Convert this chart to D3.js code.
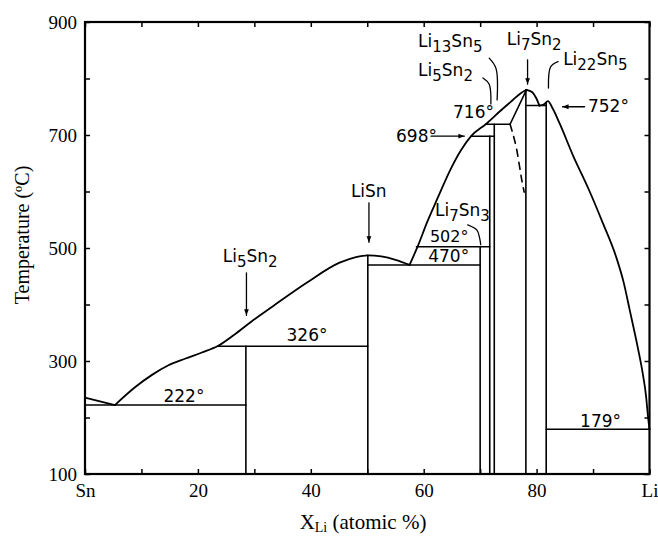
<!DOCTYPE html>
<html>
<head>
<meta charset="utf-8">
<script src="https://cdn.jsdelivr.net/npm/d3@7"></script>
<style>
  body { margin: 0; background: #fff; }
</style>
</head>
<body>
<div id="chart"></div>
<script>
// --- data: composition X_Li (at.%) and temperature (°C) ---
const liqSnEnd = [[0, 235], [5.3, 222]]
const liqLiSn = [[5.3, 222], [8.8, 253], [11.8, 275], [14.7, 292], [17.7, 304], [20.7, 315], [23.6, 327],
    [26.5, 347], [29.5, 370], [33.3, 397], [39.2, 438], [45.1, 474], [48, 484], [50.1, 487],
    [52.5, 485], [55, 479], [57.5, 470]]
const liqHigh = [[57.5, 470], [58.9, 502], [60.7, 548], [62.5, 589], [64.8, 640], [66.6, 673], [68.4, 698],
    [71.1, 720], [73.5, 742], [75.8, 762], [77.2, 774], [78.2, 780]]
const liqDome = [[78.2, 780], [79.2, 776], [79.9, 766], [80.5, 752]]
const liqLiSide = [[80.5, 752], [81.4, 755], [82, 760], [82.9, 746], [84.1, 720], [86.4, 665], [89.4, 600],
    [91.7, 545], [94.1, 484], [95.4, 440], [96.5, 390], [97.9, 325], [98.8, 278], [99.4, 237],
    [99.7, 205], [100, 179]]
const li7sn2Side = [[78.2, 780], [75.3, 719]]
const li7sn2Dashed = [[75.3, 719], [75.8, 702], [76.4, 678], [77, 643], [77.4, 619], [77.8, 599]]

// isotherms: [T, from X, to X]
const isotherms = [[222, 0, 28.5], [326, 23.6, 50.1], [470, 50.1, 70], [502, 58.7, 71.7],
    [698, 68.4, 72.5], [719, 71.0, 75.3], [752, 78.1, 81.7], [179, 81.7, 100]]
// compound lines: [X, top T]
const compounds = [[28.5, 326], [50.1, 487], [70, 502], [71.7, 698], [72.5, 719], [78.1, 780], [81.7, 756]]

const xTickVals = [0, 20, 40, 60, 80, 100]
const xTickText = ['Sn', '20', '40', '60', '80', 'Li']
const yTickVals = [100, 300, 500, 700, 900]

// pointers next to the labels
const arrows = [
    [[28.6, 456], [28.6, 381]],
    [[50.3, 580], [50.3, 510]],
    [[61.3, 698], [67.2, 698]],
    [[88.5, 750], [84.6, 750]],
    [[78.4, 833], [78.4, 790]]
]
const hooks = [
    [[70.5, 801], [71.6, 790], [71.9, 755]],
    [[71.6, 836], [72.8, 818], [73, 762]],
    [[83.8, 830], [82.5, 821], [82.1, 783]],
    [[67.8, 541], [69.4, 532], [69.9, 518], [70.1, 506]]
]

// labels: [X, T, parts] ; part [text, isSub]
const labels = [
    [24.4, 475, [['Li'], ['5', 1], ['Sn'], ['2', 1]]],
    [47.1, 590, [['LiSn']]],
    [62.0, 556, [['Li'], ['7', 1], ['Sn'], ['3', 1]]],
    [61.1, 511, [['502°']]],
    [60.8, 476, [['470°']]],
    [55.1, 688, [['698°']]],
    [65.2, 730, [['716°']]],
    [59.0, 804, [['Li'], ['5', 1], ['Sn'], ['2', 1]]],
    [59.0, 856, [['Li'], ['13', 1], ['Sn'], ['5', 1]]],
    [74.7, 859, [['Li'], ['7', 1], ['Sn'], ['2', 1]]],
    [84.7, 824, [['Li'], ['22', 1], ['Sn'], ['5', 1]]],
    [89.1, 741, [['752°']]],
    [35.7, 335, [['326°']]],
    [13.9, 227, [['222°']]],
    [87.7, 183, [['179°']]]
]

const W = 658, H = 536
const svg = d3.select('#chart').append('svg').attr('width', W).attr('height', H)

const x = d3.scaleLinear().domain([0, 100]).range([85, 649.5])
const y = d3.scaleLinear().domain([100, 900]).range([474, 22])

const serif = '"Liberation Serif", "Times New Roman", serif'
const hand = '"DejaVu Sans", sans-serif'

svg.append('defs').append('marker')
    .attr('id', 'head').attr('viewBox', '0 0 10 10')
    .attr('refX', 10).attr('refY', 5)
    .attr('markerWidth', 6).attr('markerHeight', 6)
    .attr('markerUnits', 'userSpaceOnUse')
    .attr('orient', 'auto')
    .append('path').attr('d', 'M0,1 L10,5 L0,9 Z').attr('fill', '#000')

// axes (ticks point inward)
const styleAxis = g => {
    g.select('.domain').remove()
    g.selectAll('line').attr('stroke', '#000').attr('stroke-width', 1.5)
    g.selectAll('text').attr('font-family', serif).attr('font-size', '19px').attr('fill', '#000')
}
svg.append('g').attr('transform', `translate(0,${y(100)})`)
    .call(d3.axisBottom(x).tickValues(d3.range(0, 101, 10)).tickSize(-5).tickPadding(10)
        .tickFormat(d => { const i = xTickVals.indexOf(d); return i < 0 ? '' : xTickText[i] }))
    .call(styleAxis)
svg.append('g').attr('transform', `translate(0,${y(900)})`)
    .call(d3.axisTop(x).tickValues(d3.range(0, 101, 10)).tickSize(-5).tickFormat(''))
    .call(styleAxis)
svg.append('g').attr('transform', `translate(${x(0)},0)`)
    .call(d3.axisLeft(y).tickValues(d3.range(100, 901, 100)).tickSize(-5).tickPadding(8)
        .tickFormat(d => yTickVals.includes(d) ? d : ''))
    .call(styleAxis)
svg.append('g').attr('transform', `translate(${x(100)},0)`)
    .call(d3.axisRight(y).tickValues(d3.range(100, 901, 100)).tickSize(-5).tickFormat(''))
    .call(styleAxis)

svg.append('rect')
    .attr('x', x(0)).attr('y', y(900))
    .attr('width', x(100) - x(0)).attr('height', y(100) - y(900))
    .attr('fill', 'none').attr('stroke', '#000').attr('stroke-width', 2.2)

const plot = svg.append('g').attr('fill', 'none').attr('stroke', '#000').attr('stroke-linecap', 'round')

const smooth = d3.line().x(d => x(d[0])).y(d => y(d[1])).curve(d3.curveMonotoneX)
const bent = d3.line().x(d => x(d[0])).y(d => y(d[1])).curve(d3.curveCatmullRom.alpha(0.5))
const straight = d3.line().x(d => x(d[0])).y(d => y(d[1]))

plot.append('path').attr('d', straight(liqSnEnd)).attr('stroke-width', 1.8)
;[liqLiSn, liqHigh, liqDome, liqLiSide].forEach(pts => {
    plot.append('path').attr('d', smooth(pts)).attr('stroke-width', 1.8)
})
plot.append('path').attr('d', straight(li7sn2Side)).attr('stroke-width', 1.6)
plot.append('path').attr('d', bent(li7sn2Dashed)).attr('stroke-width', 1.6)
    .attr('stroke-dasharray', '7,6')

plot.selectAll('.iso')
    .data(isotherms).enter()
    .append('line')
    .attr('x1', d => x(d[1])).attr('x2', d => x(d[2]))
    .attr('y1', d => y(d[0])).attr('y2', d => y(d[0]))
    .attr('stroke-width', 1.5)

plot.selectAll('.cmp')
    .data(compounds).enter()
    .append('line')
    .attr('x1', d => x(d[0])).attr('x2', d => x(d[0]))
    .attr('y1', d => y(d[1])).attr('y2', y(100))
    .attr('stroke-width', 1.6)

arrows.forEach(a => {
    plot.append('path').attr('d', straight(a)).attr('stroke-width', 1.3).attr('marker-end', 'url(#head)')
})
hooks.forEach(h => {
    plot.append('path').attr('d', bent(h)).attr('stroke-width', 1.3)
})

// labels with lowered subscripts
labels.forEach(([lx, ly, parts]) => {
    const small = parts.length === 1 && /[45]0/.test(parts[0][0])
    const t = svg.append('text')
        .attr('x', x(lx)).attr('y', y(ly))
        .attr('font-family', hand).attr('font-size', small ? '16px' : '17px').attr('fill', '#000')
    let low = false
    parts.forEach(([s, sub]) => {
        const ts = t.append('tspan').text(s)
        if (sub && !low) { ts.attr('dy', 5).attr('font-size', '15px'); low = true }
        else if (sub) ts.attr('font-size', '15px')
        else if (low) { ts.attr('dy', -5); low = false }
    })
})

// axis titles
svg.append('text')
    .attr('transform', `translate(29,${235}) rotate(-90)`)
    .attr('text-anchor', 'middle')
    .attr('font-family', serif).attr('font-size', '20px')
    .text('Temperature (ºC)')

const xt = svg.append('text')
    .attr('x', 363).attr('y', 529)
    .attr('text-anchor', 'middle')
    .attr('font-family', serif).attr('font-size', '21px')
xt.append('tspan').text('X')
xt.append('tspan').text('Li').attr('font-size', '14px').attr('dy', 3)
xt.append('tspan').text(' (atomic %)').attr('dy', -3)
</script>
</body>
</html>
